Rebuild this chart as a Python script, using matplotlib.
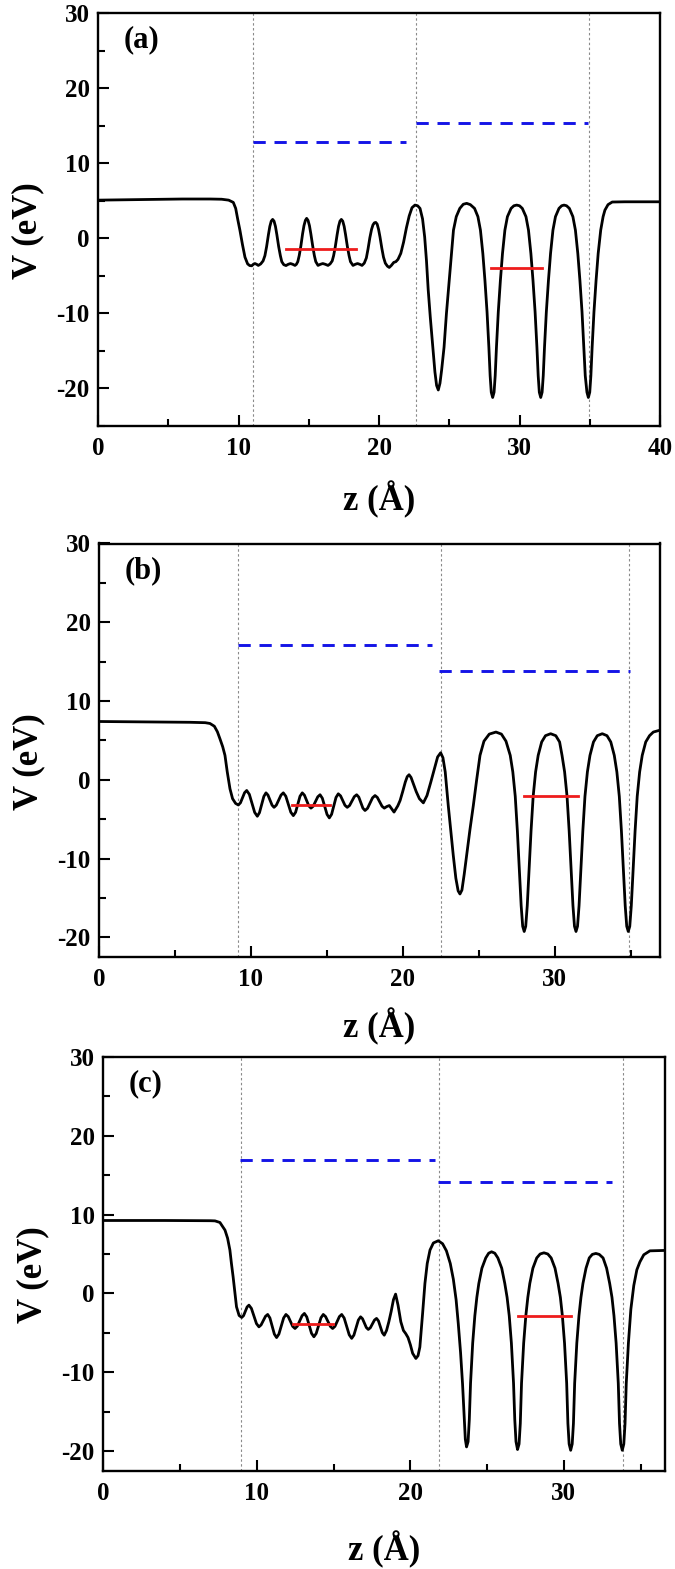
import matplotlib
matplotlib.use('Agg')
import matplotlib.pyplot as plt
from matplotlib.ticker import MultipleLocator

plt.rcParams['font.family'] = ['Liberation Serif', 'DejaVu Serif']
plt.rcParams['font.weight'] = 'bold'
plt.rcParams['axes.labelweight'] = 'bold'
plt.rcParams['axes.unicode_minus'] = False

# ---------------- Panel (a) ----------------
z_a = [0, 2, 4, 6, 8, 8.8, 9.3, 9.63, 9.8, 9.95, 10.1, 10.28, 10.46, 10.65, 10.8, 10.94,
       11.06, 11.17, 11.29, 11.41, 11.58, 11.75, 11.88, 12.0, 12.13, 12.23, 12.33, 12.43,
       12.53, 12.63, 12.73, 12.86, 12.98, 13.08, 13.22, 13.38, 13.54, 13.7, 13.86, 14.02,
       14.12, 14.22, 14.32, 14.44, 14.56, 14.66, 14.76, 14.85, 14.95, 15.05, 15.15, 15.28,
       15.4, 15.5, 15.66, 15.83, 16.0, 16.18, 16.37, 16.52, 16.67, 16.77, 16.89, 17.02,
       17.12, 17.22, 17.32, 17.42, 17.52, 17.62, 17.75, 17.87, 17.97, 18.15, 18.31, 18.47,
       18.63, 18.79, 18.95, 19.1, 19.22, 19.35, 19.47, 19.57, 19.67, 19.77, 19.87, 19.97,
       20.07, 20.2, 20.32, 20.45, 20.6, 20.73, 20.88, 21.05, 21.2, 21.35, 21.55, 21.75,
       21.95, 22.15, 22.35, 22.56, 22.75, 22.92, 23.1, 23.25, 23.38, 23.5, 23.65, 23.83,
       23.98, 24.1, 24.22, 24.34, 24.46, 24.63, 24.8, 25.0, 25.15, 25.3, 25.5, 25.75,
       26.0, 26.24, 26.5, 26.8, 27.04, 27.22, 27.39, 27.54, 27.69, 27.82, 27.91, 27.99,
       28.09, 28.19, 28.27, 28.36, 28.49, 28.64, 28.79, 28.96, 29.14, 29.4, 29.6, 29.8,
       30.0, 30.2, 30.46, 30.64, 30.81, 30.96, 31.11, 31.24, 31.33, 31.41, 31.51, 31.61,
       31.69, 31.78, 31.91, 32.06, 32.21, 32.38, 32.56, 32.81, 33.0, 33.17, 33.35, 33.55,
       33.8, 33.98, 34.15, 34.3, 34.45, 34.58, 34.68, 34.8, 34.9, 35.0, 35.08, 35.17,
       35.3, 35.45, 35.6, 35.78, 35.95, 36.08, 36.3, 36.6, 37.5, 40]
V_a = [5.1, 5.15, 5.2, 5.25, 5.25, 5.22, 5.1, 4.8, 4.0, 2.5, 1.1, -0.8, -2.5, -3.4, -3.62, -3.65,
       -3.45, -3.35, -3.45, -3.6, -3.4, -3.0, -2.3, -1.1, 0.5, 1.6, 2.3, 2.53,
       2.3, 1.6, 0.5, -1.1, -2.3, -3.1, -3.5, -3.62, -3.45, -3.35, -3.45, -3.6,
       -3.45, -3.1, -2.3, -1.0, 0.6, 1.7, 2.4, 2.67, 2.4, 1.7, 0.6, -1.0,
       -2.3, -3.1, -3.6, -3.45, -3.35, -3.45, -3.6, -3.4, -3.0, -2.3, -1.1, 0.5,
       1.6, 2.3, 2.53, 2.3, 1.6, 0.5, -1.1, -2.3, -3.1, -3.6, -3.45, -3.35,
       -3.45, -3.6, -3.3, -2.6, -1.4, 0.1, 1.2, 1.8, 2.08, 2.13, 1.9, 1.2,
       0.2, -1.3, -2.5, -3.3, -3.7, -3.87, -3.6, -3.2, -3.1, -2.8, -2.0, -0.5,
       1.4, 3.0, 4.1, 4.44, 4.35, 4.0, 2.6, 0.2, -3.0, -6.8, -10.5, -14.5,
       -17.8, -19.6, -20.2, -19.3, -17.5, -14.5, -10.0, -5.6, -2.2, 1.1, 2.9, 4.0,
       4.55, 4.67, 4.5, 4.0, 2.9, 1.1, -2.0, -5.6, -9.8, -14.5, -18.3, -20.5,
       -21.2, -20.5, -18.3, -14.5, -9.8, -5.6, -2.0, 1.1, 2.9, 4.0, 4.35, 4.44,
       4.35, 4.0, 2.9, 1.1, -2.0, -5.6, -9.8, -14.5, -18.3, -20.5, -21.2, -20.5,
       -18.3, -14.5, -9.8, -5.6, -2.0, 1.1, 2.9, 4.0, 4.35, 4.44, 4.35, 4.0,
       2.9, 1.1, -2.0, -5.6, -9.8, -14.5, -18.3, -20.5, -21.2, -20.5, -18.3, -14.5,
       -9.8, -5.6, -2.0, 1.1, 2.9, 3.77, 4.5, 4.85, 4.88, 4.88]
dotted_a = [11.05, 22.6, 34.95]
blue_a = [(11.0, 21.9, 12.9), (22.6, 34.9, 15.4)]
red_a = [(13.38, 18.36, -1.43), (27.97, 31.58, -4.0)]

# ---------------- Panel (b) ----------------
z_b = [0, 3, 6, 7.0, 7.31, 7.6, 7.8, 7.97, 8.15, 8.3, 8.45, 8.63, 8.8, 9.0, 9.18,
       9.32, 9.455, 9.59, 9.73, 9.905, 10.08, 10.255, 10.43, 10.57, 10.715, 10.86, 11.0,
       11.13, 11.265, 11.4, 11.53, 11.68, 11.835, 11.99, 12.14, 12.305, 12.47, 12.635, 12.8,
       12.95, 13.095, 13.24, 13.39, 13.53, 13.675, 13.82, 13.96, 14.11, 14.26, 14.41, 14.56,
       14.71, 14.865, 15.02, 15.17, 15.32, 15.465, 15.61, 15.76, 15.91, 16.055, 16.2, 16.35,
       16.505, 16.66, 16.815, 16.97, 17.11, 17.245, 17.38, 17.52, 17.685, 17.85, 18.015, 18.18,
       18.33, 18.485, 18.64, 18.79, 18.95, 19.12, 19.28, 19.43, 19.68, 19.83, 20.0, 20.17,
       20.3, 20.42, 20.55, 20.7, 20.89, 21.1, 21.36, 21.6, 21.85, 22.1, 22.3, 22.5,
       22.65, 22.8, 23.0, 23.17, 23.33, 23.5, 23.65, 23.77, 23.9, 24.05, 24.21, 24.43,
       24.65, 24.87, 25.09, 25.35, 25.7, 26.14, 26.5, 26.8, 27.08, 27.25, 27.41, 27.55,
       27.69, 27.8, 27.9, 28.0, 28.1, 28.2, 28.31, 28.45, 28.59, 28.75, 28.92, 29.15,
       29.4, 29.74, 30.08, 30.33, 30.49, 30.66, 30.82, 30.96, 31.1, 31.21, 31.31, 31.41,
       31.51, 31.61, 31.72, 31.86, 32.0, 32.16, 32.33, 32.56, 32.81, 33.14, 33.45, 33.7,
       33.93, 34.1, 34.26, 34.4, 34.54, 34.65, 34.75, 34.85, 34.95, 35.05, 35.16, 35.3,
       35.44, 35.6, 35.77, 36.0, 36.25, 36.5, 36.94]
V_b = [7.4, 7.35, 7.3, 7.25, 7.15, 6.8, 6.1, 5.2, 4.2, 3.1, 1.0, -1.15, -2.4, -3.0, -3.2,
       -2.92, -2.28, -1.64, -1.36, -1.85, -3.0, -4.14, -4.63, -4.18, -3.15, -2.11, -1.66,
       -1.94, -2.58, -3.22, -3.5, -3.22, -2.58, -1.94, -1.66, -2.09, -3.1, -4.12, -4.55,
       -4.12, -3.1, -2.09, -1.66, -1.95, -2.63, -3.31, -3.6, -3.35, -2.75, -2.16, -1.9,
       -2.34, -3.37, -4.4, -4.84, -4.38, -3.31, -2.24, -1.78, -2.04, -2.64, -3.24, -3.5,
       -3.26, -2.7, -2.14, -1.9, -2.2, -2.9, -3.6, -3.9, -3.62, -2.95, -2.29, -2.0,
       -2.24, -2.8, -3.36, -3.6, -3.4, -3.27, -3.7, -4.1, -3.3, -2.63, -1.5, -0.3,
       0.4, 0.64, 0.3, -0.5, -1.5, -2.4, -2.93, -2.0, -0.3, 1.5, 2.9, 3.43,
       2.8, 1.0, -3.27, -6.5, -9.6, -12.5, -14.1, -14.5, -14.0, -12.0, -9.6, -6.3,
       -3.27, 0.0, 3.1, 4.9, 5.8, 6.06, 5.8, 4.9, 3.1, 1.0, -2.1, -6.5,
       -11.75, -16.0, -18.6, -19.26, -18.6, -16.0, -11.75, -6.5, -2.1, 1.0, 3.1, 4.8,
       5.6, 5.85, 5.6, 4.8, 3.1, 1.0, -2.1, -6.5, -11.75, -16.0, -18.6, -19.26,
       -18.6, -16.0, -11.75, -6.5, -2.1, 1.0, 3.1, 4.8, 5.6, 5.85, 5.6, 4.8,
       3.1, 1.0, -2.1, -6.5, -11.75, -16.0, -18.6, -19.26, -18.6, -16.0, -11.75, -6.5,
       -2.1, 1.0, 3.1, 4.8, 5.6, 6.06, 6.3]
dotted_b = [9.16, 22.5, 34.9]
blue_b = [(9.14, 21.93, 17.09), (22.36, 34.95, 13.8)]
red_b = [(12.73, 15.21, -3.14), (28.0, 31.56, -2.12)]

# ---------------- Panel (c) ----------------
z_c = [0, 4, 7.0, 7.28, 7.6, 7.93, 8.1, 8.25, 8.35, 8.46, 8.57, 8.68, 8.85, 9.02,
       9.14, 9.255, 9.37, 9.49, 9.65, 9.815, 9.98, 10.14, 10.28, 10.425, 10.57, 10.71,
       10.855, 11.0, 11.145, 11.29, 11.44, 11.595, 11.75, 11.9, 12.05, 12.195, 12.34, 12.49,
       12.64, 12.795, 12.95, 13.1, 13.255, 13.41, 13.565, 13.72, 13.87, 14.025, 14.18, 14.33,
       14.48, 14.635, 14.79, 14.94, 15.09, 15.235, 15.38, 15.53, 15.69, 15.855, 16.02, 16.18,
       16.325, 16.47, 16.615, 16.76, 16.885, 17.01, 17.135, 17.26, 17.395, 17.53, 17.665, 17.8,
       17.925, 18.05, 18.175, 18.3, 18.45, 18.6, 18.75, 18.9, 19.04, 19.2, 19.38, 19.55,
       19.7, 19.85, 20.0, 20.15, 20.36, 20.5, 20.62, 20.8, 20.95, 21.1, 21.28, 21.5,
       21.82, 22.1, 22.35, 22.6, 22.8, 22.98, 23.12, 23.27, 23.4, 23.5, 23.58, 23.66,
       23.76, 23.84, 23.92, 24.06, 24.2, 24.33, 24.46, 24.66, 24.91, 25.1, 25.29, 25.5,
       25.7, 25.95, 26.15, 26.3, 26.44, 26.58, 26.72, 26.8, 26.88, 26.98, 27.08, 27.16,
       27.24, 27.38, 27.52, 27.65, 27.78, 27.98, 28.23, 28.45, 28.7, 28.95, 29.17, 29.42,
       29.62, 29.77, 29.9, 30.04, 30.18, 30.26, 30.34, 30.44, 30.54, 30.62, 30.7, 30.84,
       30.98, 31.11, 31.24, 31.44, 31.65, 31.85, 32.08, 32.3, 32.55, 32.78, 32.98, 33.13,
       33.26, 33.4, 33.54, 33.62, 33.7, 33.8, 33.9, 33.98, 34.06, 34.2, 34.36, 34.55,
       34.75, 34.95, 35.2, 35.6, 36.55]
V_c = [9.25, 9.25, 9.22, 9.2, 9.0, 8.03, 7.0, 5.5, 3.8, 2.1, 0.2, -1.7, -2.8, -3.05,
       -2.82, -2.27, -1.72, -1.49, -1.9, -2.87, -3.83, -4.24, -4.0, -3.46, -2.9, -2.67,
       -3.11, -4.14, -5.16, -5.6, -5.16, -4.14, -3.11, -2.67, -2.94, -3.56, -4.18, -4.45,
       -4.16, -3.5, -2.83, -2.54, -2.98, -4.02, -5.06, -5.5, -5.08, -4.09, -3.09, -2.67,
       -2.94, -3.56, -4.18, -4.45, -4.18, -3.56, -2.94, -2.67, -3.12, -4.19, -5.25, -5.7,
       -5.29, -4.34, -3.38, -2.97, -3.21, -3.77, -4.33, -4.57, -4.36, -3.87, -3.38, -3.17,
       -3.49, -4.24, -4.98, -5.3, -4.7, -3.6, -2.3, -0.8, -0.09, -1.5, -3.6, -4.7,
       -5.1, -5.6, -6.5, -7.6, -8.25, -7.9, -6.8, -2.5, 1.27, 3.8, 5.5, 6.4,
       6.68, 6.3, 5.4, 3.8, 1.8, -0.8, -3.8, -7.5, -11.5, -15.5, -18.5, -19.47,
       -18.8, -16.0, -11.4, -6.3, -2.84, -0.5, 1.27, 3.2, 4.5, 5.1, 5.28, 5.1,
       4.5, 3.2, 1.27, -0.5, -2.84, -6.3, -11.4, -16.0, -18.8, -19.8, -19.1, -16.5,
       -11.4, -6.3, -2.84, -0.5, 1.27, 3.2, 4.5, 5.0, 5.15, 5.0, 4.5, 3.2,
       1.27, -0.5, -2.84, -6.3, -11.4, -16.5, -19.1, -19.9, -19.1, -16.5, -11.4, -6.3,
       -2.84, -0.5, 1.27, 3.2, 4.5, 4.95, 5.07, 4.95, 4.5, 3.2, 1.27, -0.5,
       -2.84, -6.3, -11.4, -16.5, -19.1, -19.9, -19.1, -16.5, -11.4, -6.3, -2.0, 1.0,
       3.0, 4.0, 4.9, 5.4, 5.45]
dotted_c = [8.96, 21.84, 33.85]
blue_c = [(8.9, 21.6, 16.87), (21.83, 33.1, 14.07)]
red_c = [(12.34, 14.98, -3.94), (26.98, 30.45, -2.84)]

panel_labels = ['(a)', '(b)', '(c)']
x_limits = [(0, 40), (0, 36.94), (0, 36.55)]
y_limits = [(-25, 30), (-22.5, 30), (-22.5, 30)]
x_major = [0, 10, 20, 30, 40]
y_major = [-20, -10, 0, 10, 20, 30]

W, H = 675, 1569
fig = plt.figure(figsize=(W / 100, H / 100), dpi=100)

# axes boxes in pixels: left, right, top, bottom
boxes = [(98, 660, 13.3, 426), (98.9, 660, 543.5, 957), (103.2, 664.5, 1056.9, 1470.8)]
xlabel_y = [-0.179, -0.169, -0.19]

data = [(z_a, V_a, dotted_a, blue_a, red_a),
        (z_b, V_b, dotted_b, blue_b, red_b),
        (z_c, V_c, dotted_c, blue_c, red_c)]

for i, (z, v, dots, blues, reds) in enumerate(data):
    l, r, t, b = boxes[i]
    ax = fig.add_axes([l / W, 1 - b / H, (r - l) / W, (b - t) / H])
    for d in dots:
        ax.axvline(d, color='#8a8a8a', lw=0.8, ls=(0, (2.2, 2.2)), zorder=1)
    ax.plot(z, v, color='black', lw=2.0, zorder=3, solid_joinstyle='round')
    for x0, x1, y in blues:
        ax.plot([x0, x1], [y, y], color='#1414e6', lw=2.1, dashes=(4.2, 3.0), zorder=2)
    for x0, x1, y in reds:
        ax.plot([x0, x1], [y, y], color='#ee1c1c', lw=2.0, zorder=4)
    ax.set_xlim(*x_limits[i])
    ax.set_ylim(*y_limits[i])
    ax.set_xticks([t_ for t_ in x_major if t_ <= x_limits[i][1]])
    ax.set_yticks(y_major)
    ax.xaxis.set_minor_locator(MultipleLocator(5))
    ax.yaxis.set_minor_locator(MultipleLocator(5))
    ax.tick_params(which='both', direction='in', top=False, right=False, width=1.5)
    ax.tick_params(which='major', length=8, labelsize=18)
    ax.tick_params(which='minor', length=5)
    ax.tick_params(axis='x', which='major', pad=8)
    ax.tick_params(axis='y', which='major', pad=6)
    for s in ax.spines.values():
        s.set_linewidth(1.7)
    ax.set_xlabel('z (Å)', fontsize=25, fontweight='bold')
    ax.set_ylabel('V (eV)', fontsize=25, fontweight='bold')
    ax.xaxis.set_label_coords(0.5, xlabel_y[i])
    ax.get_xaxis().label.set_verticalalignment('center')
    ax.yaxis.set_label_coords(-0.125, 0.473)
    ax.get_yaxis().label.set_verticalalignment('center')
    ax.text(0.046, 0.935, panel_labels[i], transform=ax.transAxes, fontsize=22,
            fontweight='bold', ha='left', va='center')

fig.savefig('out.png', dpi=100)
